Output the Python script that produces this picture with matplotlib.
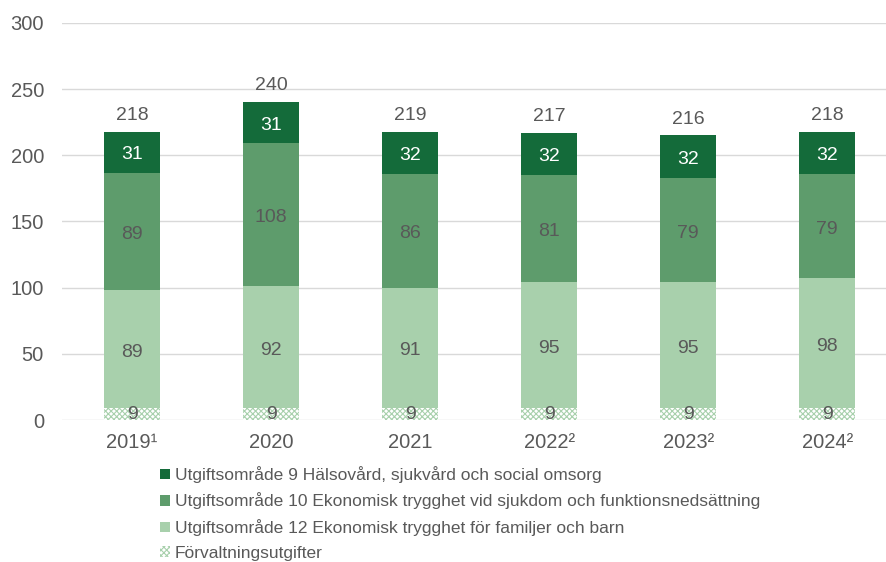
import matplotlib
matplotlib.use("Agg")
import matplotlib.pyplot as plt
import numpy as np

years = ["2019¹", "2020", "2021", "2022²", "2023²", "2024²"]
forvaltning = [9, 9, 9, 9, 9, 9]
uo12 = [89, 92, 91, 95, 95, 98]
uo10 = [89, 108, 86, 81, 79, 79]
uo9 = [31, 31, 32, 32, 32, 32]
totals = [218, 240, 219, 217, 216, 218]

names = ["Utgiftsområde 9 Hälsovård, sjukvård och social omsorg",
         "Utgiftsområde 10 Ekonomisk trygghet vid sjukdom och funktionsnedsättning",
         "Utgiftsområde 12 Ekonomisk trygghet för familjer och barn",
         "Förvaltningsutgifter"]

plt.rcParams['font.family'] = ['Liberation Sans', 'DejaVu Sans']
plt.rcParams['hatch.linewidth'] = 0.8

c_dark = "#146B3A"
c_mid = "#5E9C6C"
c_light = "#A8D0AC"
txt = "#595959"

fig = plt.figure(figsize=(8.87, 5.62), dpi=100)
ax = fig.add_axes([62/887, 1-420/562, 1-62/887, (420-23)/562])

x = np.arange(len(years))
w = 0.4
b0 = ax.bar(x, forvaltning, w, facecolor="white", edgecolor=c_light, hatch="xxxxxx", linewidth=0, label=names[3])
bot1 = np.array(forvaltning)
b1 = ax.bar(x, uo12, w, bottom=bot1, color=c_light, label=names[2])
bot2 = bot1 + np.array(uo12)
b2 = ax.bar(x, uo10, w, bottom=bot2, color=c_mid, label=names[1])
bot3 = bot2 + np.array(uo10)
b3 = ax.bar(x, uo9, w, bottom=bot3, color=c_dark, label=names[0])

fs = 14
off = -2.2
for i in range(len(x)):
    ax.text(x[i], forvaltning[i]/2 - 0.5, str(forvaltning[i]), ha="center", va="center", fontsize=fs, color=txt)
    ax.text(x[i], bot1[i] + uo12[i]/2 + off, str(uo12[i]), ha="center", va="center", fontsize=fs, color=txt)
    ax.text(x[i], bot2[i] + uo10[i]/2 + off, str(uo10[i]), ha="center", va="center", fontsize=fs, color=txt)
    ax.text(x[i], bot3[i] + uo9[i]/2 + off, str(uo9[i]), ha="center", va="center", fontsize=fs, color="white")
    ax.text(x[i], bot3[i] + uo9[i] + 6, str(totals[i]), ha="center", va="bottom", fontsize=fs, color=txt)

ax.set_ylim(0, 300)
ax.set_xlim(-0.504, 5.43)
ax.set_yticks(range(0, 301, 50))
ax.set_xticks(x)
ax.set_xticklabels(years)
ax.tick_params(axis="both", length=0, labelsize=14.5, colors=txt)
ax.tick_params(axis="y", pad=13)
ax.tick_params(axis="x", pad=9)
ax.grid(axis="y", color="#D9D9D9", linewidth=1)
ax.set_axisbelow(True)
for s in ax.spines.values():
    s.set_visible(False)

handles = [b3, b2, b1, b0]
leg = fig.legend(handles, names, loc="upper left", bbox_to_anchor=(160/887, 1-466/562),
                 frameon=False, fontsize=12.5, labelcolor=txt, handlelength=0.55, handleheight=0.55,
                 handletextpad=0.3, labelspacing=0.55, borderaxespad=0, borderpad=0)

fig.savefig("out.png", dpi=100)
